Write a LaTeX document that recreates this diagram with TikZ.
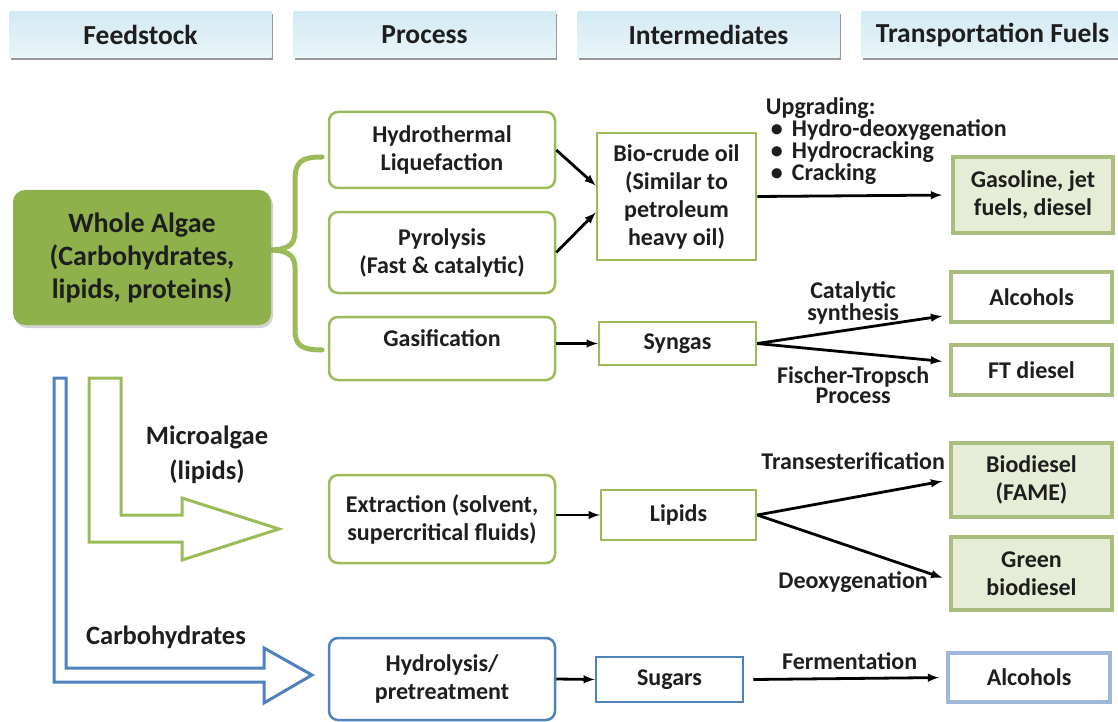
\documentclass[tikz,border=0pt]{standalone}
\usepackage{fontspec}
\setmainfont{Carlito}
\usetikzlibrary{arrows,shapes,positioning,shadows}
\definecolor{algaegreen}{HTML}{9BBB59}
\definecolor{algaefill}{HTML}{8FB14B}
\definecolor{fuelline}{HTML}{A9BE7E}
\definecolor{fuelfill}{HTML}{E6EDD6}
\definecolor{sugarblue}{HTML}{4F81BD}
\definecolor{paleblue}{HTML}{9DB8DA}
\definecolor{headtop}{HTML}{D3EAF2}
\definecolor{headbot}{HTML}{E9F5F9}
\definecolor{ink}{HTML}{1E1E1E}
\newcommand{\boxfont}{\fontsize{24}{28}\selectfont\bfseries}
\newcommand{\upitem}{\makebox[26pt][l]{\hspace{5pt}\textbullet}}
\tikzset{
    header/.style={
    rectangle,top color=headtop,bottom color=headbot,text=ink,
    minimum width=262pt,minimum height=46pt,font=\fontsize{27.5}{30}\selectfont\bfseries,
    drop shadow={shadow xshift=1.5pt,shadow yshift=-2.5pt,fill=gray,opacity=0.8}
    },
    algae/.style={
    rectangle,rounded corners=12pt,fill=algaefill,text=ink,align=center,
    minimum width=258pt,minimum height=135pt,font=\fontsize{28}{33}\selectfont\bfseries,
    drop shadow={shadow xshift=2pt,shadow yshift=-3pt,opacity=0.35}
    },
    process/.style={
    rectangle,rounded corners=9pt,draw=algaegreen,line width=2.5pt,fill=white,
    text=ink,align=center,minimum width=226pt,font=\boxfont
    },
    bprocess/.style={process,draw=sugarblue},
    inter/.style={
    rectangle,draw=algaegreen,line width=2.5pt,fill=white,
    text=ink,align=center,font=\boxfont
    },
    binter/.style={inter,draw=sugarblue},
    fuel/.style={
    rectangle,draw=fuelline,line width=4pt,fill=fuelfill,
    text=ink,align=center,minimum width=161pt,font=\boxfont
    },
    wfuel/.style={fuel,fill=white},
    bfuel/.style={fuel,fill=white,draw=paleblue},
    flow/.style={line width=2.8pt},
    elabel/.style={text=ink,align=center,font=\boxfont},
    biglabel/.style={elabel,font=\fontsize{26.5}{35}\selectfont\bfseries},
    brace/.style={draw=algaegreen,line width=5pt,line cap=round},
    hollow/.style={line width=3pt,fill=white,line join=miter},
}
\begin{document}
\begin{tikzpicture}[x=1pt, y=-1pt, >=latex, node distance=284pt, on grid]
   \useasboundingbox (0,0) rectangle (1118,722);
   % column headers
   \node[header] (hfeed) at (140.5,35) {Feedstock};
   \node[header] (hproc) [right=of hfeed] {Process};
   \node[header] (hinter) [right=of hproc] {Intermediates};
   \node[header] (hfuel) [right=of hinter] {Transportation Fuels};

   % feedstock and its three routes
   \draw[brace] (322,157) .. controls (301,157) and (295,162) .. (295,180) -- (295,232)
      .. controls (295,246) and (286,250) .. (268,250) .. controls (286,250) and (295,254) .. (295,268)
      -- (295,330) .. controls (295,345) and (301,350) .. (322,350);
   \node[algae] (algae) at (142,257.5) {Whole Algae\\(Carbohydrates,\\lipids, proteins)};
   \draw[hollow,draw=algaegreen] (89,378) -- (121,378) -- (121,515) -- (182,515) -- (182,498)
      -- (279,529) -- (182,560) -- (182,542) -- (89,542) -- cycle;
   \draw[hollow,draw=sugarblue] (54,378) -- (66,378) -- (66,668) -- (264,668) -- (264,648)
      -- (312,675) -- (264,703) -- (264,682) -- (54,682) -- cycle;
   \node[biglabel] (microlbl) at (207,455) {Microalgae\\(lipids)};
   \node[biglabel] (carblbl) at (166,637) {Carbohydrates};

   % process
   \node[process,minimum height=76pt] (htl) at (442,150) {Hydrothermal\\Liquefaction};
   \node[process,minimum height=81pt] (pyro) at (442,252.5) {Pyrolysis\\(Fast \& catalytic)};
   \node[process,text height=17pt,text depth=22pt,inner ysep=12pt] (gasif) at (442,348.5) {Gasification};
   \node[process,minimum height=88pt] (extr) at (442,519) {Extraction (solvent,\\supercritical fluids)};
   \node[bprocess,minimum height=82pt] (hydro) at (442,679) {Hydrolysis/\\pretreatment};

   % intermediates
   \node[inter,minimum width=159pt,minimum height=127pt] (biocrude) at (676.5,196.5) {Bio-crude oil\\(Similar to\\petroleum\\heavy oil)};
   \node[inter,minimum width=157pt,minimum height=43pt] (syngas) at (677.5,343.5) {Syngas};
   \node[inter,minimum width=155pt,minimum height=50pt] (lipids) at (678.5,515) {Lipids};
   \node[binter,minimum width=147pt,minimum height=45pt] (sugars) at (669.5,679.5) {Sugars};
   \coordinate (sugarsout) at ([xshift=9pt]sugars.east);

   % fuels
   \node[fuel,minimum width=160pt,minimum height=76pt] (gasoline) at (1033,195) {Gasoline, jet\\fuels, diesel};
   \node[wfuel,minimum height=50pt] (alcohols) at (1031.5,297) {Alcohols};
   \node[wfuel,minimum height=50pt] (ftdiesel) at (1031.5,370) {FT diesel};
   \node[fuel,minimum height=74pt] (biodiesel) at (1031.5,480) {Biodiesel\\(FAME)};
   \node[fuel,minimum height=73pt] (greendiesel) at (1031.5,573.5) {Green\\biodiesel};
   \node[bfuel,minimum width=162pt,minimum height=49pt] (alcoholsb) at (1029,677.5) {Alcohols};

  \path[->,flow]
             (htl.east)  edge  ([yshift=11pt]biocrude.west)
             (pyro.east) edge  ([yshift=-16pt]biocrude.west)
             (gasif.east |- syngas.west) edge (syngas.west)
             (extr.east |- lipids.west) edge (lipids.west)
             (hydro.east) edge (sugars.west)
             (biocrude.east) edge [shorten >=9pt]
                 node [elabel,align=left,pos=0,anchor=south west,xshift=4pt,yshift=7pt,font=\fontsize{24}{22}\selectfont\bfseries]
                 {Upgrading:\\\upitem Hydro-deoxygenation\\\upitem Hydrocracking\\\upitem Cracking}
                 (gasoline.west)
             (syngas.east) edge [shorten >=7pt]
                 node [elabel,above,font=\fontsize{24}{22}\selectfont\bfseries] {Catalytic\\synthesis}
                 ([yshift=-18pt]alcohols.west)
             (syngas.east) edge [shorten >=7pt]
                 node [elabel,below=9pt,font=\fontsize{24}{20}\selectfont\bfseries] {Fischer-Tropsch\\Process}
                 ([yshift=8pt]ftdiesel.west)
             (lipids.east) edge [shorten >=7pt] node [elabel,above=23pt] {Transesterification} (biodiesel.west)
             (lipids.east) edge [shorten >=7pt] node [elabel,below=19pt] {Deoxygenation} ([yshift=-6.5pt]greendiesel.west)
             (sugarsout) edge [shorten >=7pt] node [elabel,above=4pt] {Fermentation} (alcoholsb.west);
\end{tikzpicture}
\end{document}
